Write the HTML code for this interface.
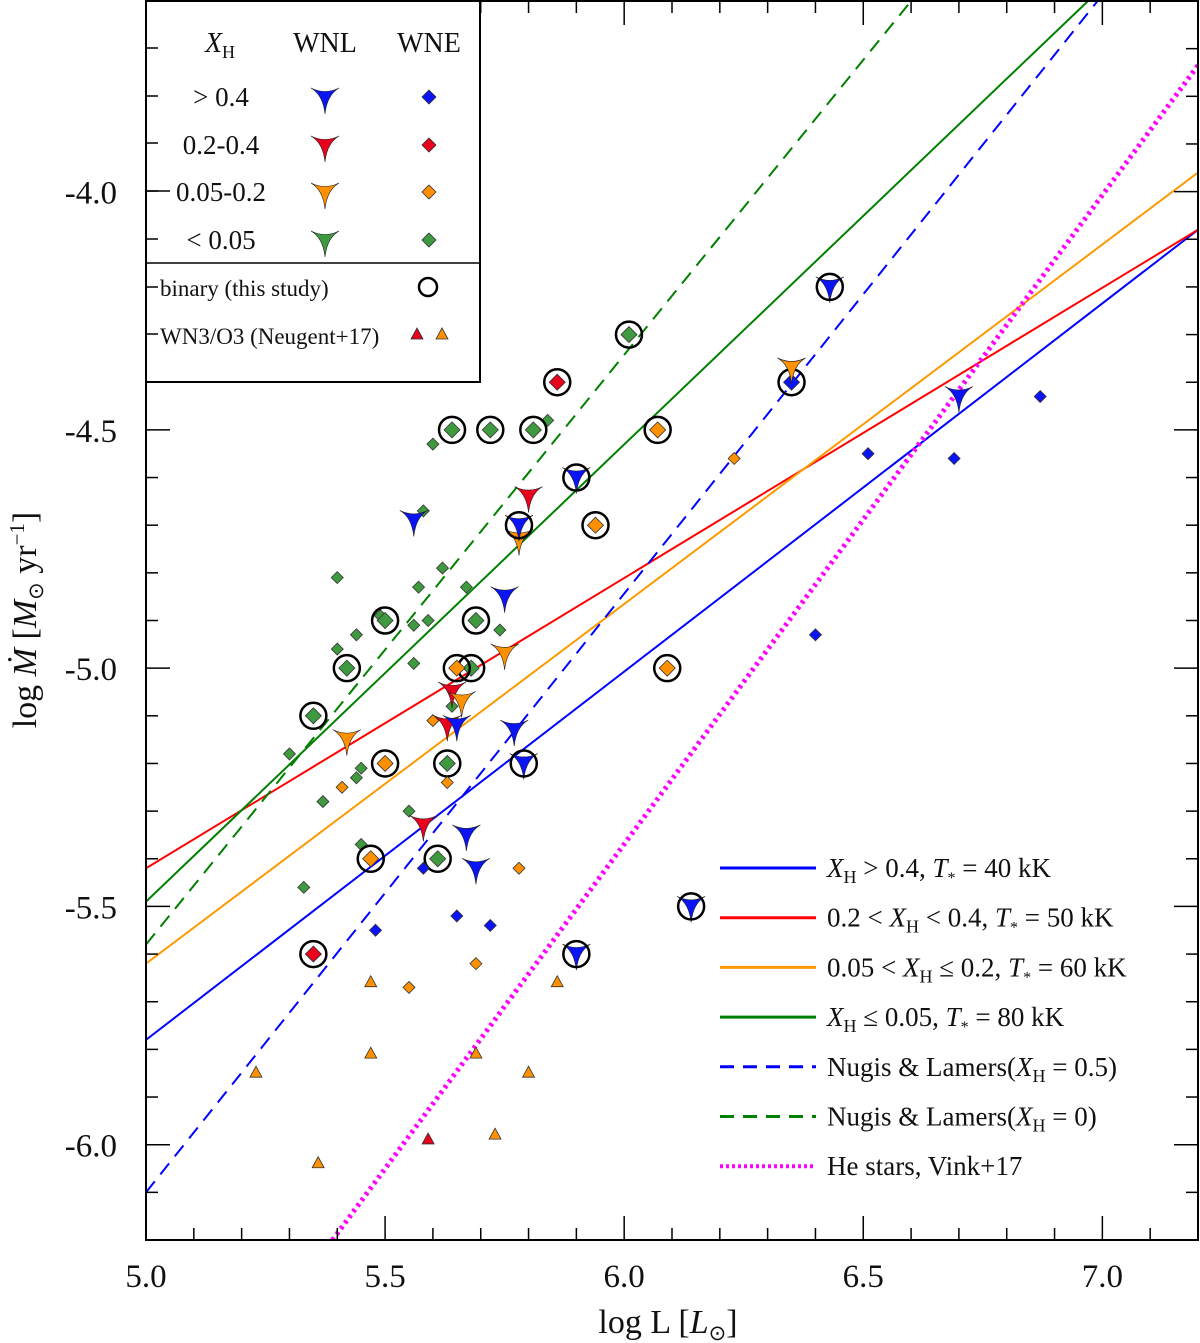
<!DOCTYPE html>
<html><head><meta charset="utf-8"><style>
html,body{margin:0;padding:0;background:#fff}
svg{display:block;font-family:"Liberation Serif",serif}
</style></head><body>
<svg id="chart" width="1200" height="1343" viewBox="0 0 1200 1343"></svg>
<script>
const xTicks=[5.0,5.5,6.0,6.5,7.0];
const xTickLabels=["5.0","5.5","6.0","6.5","7.0"];
const yTicks=[-4.0,-4.5,-5.0,-5.5,-6.0];
const yTickLabels=["-4.0","-4.5","-5.0","-5.5","-6.0"];
// relations: [x0,y0,x1,y1]
const lineBlue=[5.0,-5.78,7.2,-4.08];
const lineRed=[5.0,-5.42,7.2,-4.08];
const lineOrange=[5.0,-5.62,7.2,-3.96];
const lineGreen=[5.0,-5.49,6.97,-3.6];
const nlBlue=[5.0,-6.10,6.99,-3.6];
const nlGreen=[5.0,-5.58,6.6,-3.6];
const vink=[5.39,-6.2,7.2,-3.735];
// WNE diamonds [x,y]
const wneGreen=[[5.30,-5.18],[5.33,-5.46],[5.37,-5.28],[5.40,-4.96],[5.40,-4.81],[5.44,-4.93],[5.44,-5.23],[5.45,-5.21],[5.45,-5.37],[5.55,-5.30],[5.56,-4.99],[5.56,-4.91],[5.57,-4.83],[5.58,-4.67],[5.59,-4.90],[5.60,-4.53],[5.62,-4.79],[5.67,-4.83],[5.74,-4.92],[5.84,-4.48],[5.49,-4.89],[5.64,-5.08]];
const wneGreenBin=[[5.35,-5.10],[5.42,-5.00],[5.50,-4.90],[5.63,-5.20],[5.61,-5.40],[5.64,-4.50],[5.72,-4.50],[5.81,-4.50],[5.69,-4.90],[6.01,-4.30],[5.68,-5.00]];
const wneOrange=[[5.41,-5.25],[5.60,-5.11],[5.63,-5.24],[5.78,-5.42],[5.69,-5.62],[5.55,-5.67],[6.23,-4.56]];
const wneOrangeBin=[[5.47,-5.40],[5.50,-5.20],[5.65,-5.00],[5.94,-4.70],[6.07,-4.50],[6.09,-5.00]];
const wneBlue=[[5.48,-5.55],[5.58,-5.42],[5.65,-5.52],[5.72,-5.54],[6.51,-4.55],[6.69,-4.56],[6.87,-4.43],[6.40,-4.93]];
const wneBlueBin=[[6.35,-4.40]];
const wneRedBin=[[5.86,-4.40],[5.35,-5.60]];
// WNL arrows
const wnlBlue=[[5.56,-4.69],[5.75,-4.85],[5.65,-5.12],[5.77,-5.13],[5.67,-5.35],[5.69,-5.42],[6.70,-4.43]];
const wnlBlueBin=[[5.90,-4.60],[5.78,-4.70],[5.79,-5.20],[6.43,-4.20],[6.14,-5.50],[5.90,-5.60]];
const wnlRed=[[5.80,-4.64],[5.64,-5.05],[5.63,-5.12],[5.58,-5.33]];
const wnlOrange=[[5.42,-5.15],[5.75,-4.97],[5.66,-5.07],[5.78,-4.73],[6.35,-4.37]];
// Neugent+17 triangles
const triOrange=[[5.23,-5.85],[5.36,-6.04],[5.47,-5.66],[5.47,-5.81],[5.69,-5.81],[5.80,-5.85],[5.73,-5.98],[5.86,-5.66]];
const triRed=[[5.59,-5.99]];

const L=146,R=1198,T=1,B=1240,XMIN=5.0,XMAX=7.2,YMIN=-6.2,YMAX=-3.6;
const sx=v=>L+(v-XMIN)/(XMAX-XMIN)*(R-L);
const sy=v=>B-(v-YMIN)/(YMAX-YMIN)*(B-T);
const NS="http://www.w3.org/2000/svg";
const svg=document.getElementById('chart');
function mk(tag,attrs,parent){const e=document.createElementNS(NS,tag);for(const k in attrs)e.setAttribute(k,attrs[k]);(parent||svg).appendChild(e);return e;}
const C={blue:"#0a14f5",red:"#e8001c",orange:"#ff9100",green:"#3f9a3f"};

const clip=mk('clipPath',{id:'pc'});mk('rect',{x:L,y:T,width:R-L,height:B-T},clip);
const plot=mk('g',{'clip-path':'url(#pc)'});



function drawLine(a,color,dash,w,name){
  const l=mk('line',{x1:sx(a[0]),y1:sy(a[1]),x2:sx(a[2]),y2:sy(a[3]),stroke:color,'stroke-width':w||2,'stroke-dasharray':dash||'none'},plot);
  
  
}
drawLine(lineBlue,"#0000ff",null,2,'line-xh-gt-0.4');
drawLine(lineRed,"#ff0000",null,2,'line-xh-0.2-0.4');
drawLine(lineOrange,"#ff9900",null,2,'line-xh-0.05-0.2');
drawLine(lineGreen,"#008000",null,2,'line-xh-le-0.05');
drawLine(nlBlue,"#0000ff","14,9",2,'nugis-lamers-xh-0.5');
drawLine(nlGreen,"#008000","14,9",2,'nugis-lamers-xh-0');
drawLine(vink,"#ff00ff","3,4",5,'vink-he-stars');

function diamond(x,y,col,s,g){return mk('path',{d:`M${x},${y-s}L${x+s},${y}L${x},${y+s}L${x-s},${y}Z`,fill:col,stroke:'#333','stroke-width':0.8},g);}
function arrow(x,y,col,g){return mk('path',{d:`M${x-14},${y-10}Q${x},${y-3} ${x+14},${y-10}Q${x+2},${y-3} ${x},${y+16}Q${x-2},${y-3} ${x-14},${y-10}Z`,fill:col,stroke:'#222','stroke-width':0.6},g);}
function ring(x,y,g){return mk('circle',{cx:x,cy:y,r:13,fill:'none',stroke:'#000','stroke-width':2.5},g);}
function tri(x,y,col,g){return mk('path',{d:`M${x},${y-7}L${x+6},${y+4}L${x-6},${y+4}Z`,fill:col,stroke:'#333','stroke-width':0.8},g);}

function series(arr,col,kind,bin,name){
  const g=mk('g',{},plot);
  
  
  arr.forEach(p=>{
    const x=sx(p[0]),y=sy(p[1]);
    let m;
    if(kind==='d')m=diamond(x,y,col,bin?8:6,g);
    else if(kind==='a')m=arrow(x,y,col,g);
    else m=tri(x,y,col,g);
    
    
    if(bin){const r=ring(x,y,g);
      
      }
  });
}
series(triOrange,C.orange,'t',false,'neugent-orange');
series(triRed,C.red,'t',false,'neugent-red');
series(wneGreen,C.green,'d',false,'wne-green');
series(wneGreenBin,C.green,'d',true,'wne-green-binary');
series(wneOrange,C.orange,'d',false,'wne-orange');
series(wneOrangeBin,C.orange,'d',true,'wne-orange-binary');
series(wneBlue,C.blue,'d',false,'wne-blue');
series(wneBlueBin,C.blue,'d',true,'wne-blue-binary');
series(wneRedBin,C.red,'d',true,'wne-red-binary');
series(wnlRed,C.red,'a',false,'wnl-red');
series(wnlOrange,C.orange,'a',false,'wnl-orange');
series(wnlBlue,C.blue,'a',false,'wnl-blue');
series(wnlBlueBin,C.blue,'a',true,'wnl-blue-binary');

// ticks
const ax=mk('g',{stroke:'#000','stroke-width':1.5});


for(let i=0;i<=22;i++){const v=XMIN+i*0.1,x=sx(v),maj=i%5===0,len=maj?24:12;
  mk('line',{x1:x,y1:B,x2:x,y2:B-len},ax);mk('line',{x1:x,y1:T,x2:x,y2:T+len},ax);}
for(let i=0;i<=26;i++){const v=YMIN+i*0.1,y=sy(v),maj=Math.abs(Math.round(v*10))%5===0,len=maj?24:12;
  mk('line',{x1:L,y1:y,x2:L+len,y2:y},ax);mk('line',{x1:R,y1:y,x2:R-len,y2:y},ax);}

// legend top-left
const lg=mk('g',{});


mk('rect',{x:L,y:T,width:334,height:381,fill:'#fff',stroke:'#000','stroke-width':2},lg);
mk('line',{x1:L,y1:263,x2:480,y2:263,stroke:'#000','stroke-width':1.5},lg);
[48,96,143,191,239,287,334].forEach(y=>mk('line',{x1:L,y1:y,x2:L+12,y2:y,stroke:'#000','stroke-width':1.5},lg));
mk('line',{x1:L,y1:191,x2:L+24,y2:191,stroke:'#000','stroke-width':1.5},lg);
const tx=(x,y,s,size,anchor,name)=>{const t=mk('text',{x:x,y:y,'font-size':size||24,'text-anchor':anchor||'middle',fill:'#111'},lg);t.innerHTML=s;return t;};
tx(220,52,'<tspan font-style="italic">X</tspan><tspan font-size="18" dy="6">H</tspan>',28,'middle','legend-header-xh');
tx(325,52,'WNL',28,'middle','legend-header-wnl');
tx(429,52,'WNE',28,'middle','legend-header-wne');
const rows=[['&gt; 0.4',C.blue,97],['0.2-0.4',C.red,145],['0.05-0.2',C.orange,192],['&lt; 0.05',C.green,240]];
rows.forEach(r=>{tx(221,r[2]+9,r[0],27,'middle','legend-row-label');arrow(325,r[2]+1,r[1],lg);diamond(429,r[2],r[1],7,lg);});
tx(160,296,'binary (this study)',23,'start','legend-binary');
mk('circle',{cx:428,cy:287,r:9,fill:'none',stroke:'#000','stroke-width':2.5},lg);
tx(160,344,'WN3/O3 (Neugent+17)',23,'start','legend-neugent');
tri(417,335,C.red,lg);tri(442,335,C.orange,lg);

// line legend
const ll=mk('g',{});


const sub='<tspan font-size="18" dy="6">H</tspan><tspan dy="-6">';
const star='<tspan font-size="16" dy="6">*</tspan><tspan dy="-6">';
const items=[
 ['#0000ff','none',3,'<tspan font-style="italic">X</tspan>'+sub+' &gt; 0.4, </tspan><tspan font-style="italic">T</tspan>'+star+' = 40 kK</tspan>'],
 ['#ff0000','none',3,'0.2 &lt; <tspan font-style="italic">X</tspan>'+sub+' &lt; 0.4, </tspan><tspan font-style="italic">T</tspan>'+star+' = 50 kK</tspan>'],
 ['#ff9900','none',3,'0.05 &lt; <tspan font-style="italic">X</tspan>'+sub+' ≤ 0.2, </tspan><tspan font-style="italic">T</tspan>'+star+' = 60 kK</tspan>'],
 ['#008000','none',3,'<tspan font-style="italic">X</tspan>'+sub+' ≤ 0.05, </tspan><tspan font-style="italic">T</tspan>'+star+' = 80 kK</tspan>'],
 ['#0000ff','14,9',3,'Nugis &amp; Lamers(<tspan font-style="italic">X</tspan>'+sub+' = 0.5)</tspan>'],
 ['#008000','14,9',3,'Nugis &amp; Lamers(<tspan font-style="italic">X</tspan>'+sub+' = 0)</tspan>'],
 ['#ff00ff','3,3',4,'He stars, Vink+17']];
items.forEach((it,i)=>{const y=868+i*49.7;
  mk('line',{x1:720,y1:y,x2:816,y2:y,stroke:it[0],'stroke-width':it[2],'stroke-dasharray':it[1]},ll);
  const t=mk('text',{x:827,y:y+9,'font-size':27,fill:'#111'},ll);t.innerHTML=it[3];
  
  
});

mk('rect',{x:L,y:T,width:R-L,height:B-T,fill:'none',stroke:'#000','stroke-width':2});

// tick labels
xTicks.forEach((v,i)=>{const t=mk('text',{x:sx(v),y:1287,'font-size':33,'text-anchor':'middle',fill:'#111'});t.textContent=xTickLabels[i];
  });
yTicks.forEach((v,i)=>{const t=mk('text',{x:117,y:sy(v)+12,'font-size':33,'text-anchor':'end',fill:'#111'});t.textContent=yTickLabels[i];
  });
const xt=mk('text',{x:668,y:1333,'font-size':34,'text-anchor':'middle',fill:'#111'});
xt.innerHTML='log L  [<tspan font-style="italic">L</tspan><tspan font-size="21" dy="7">⊙</tspan><tspan dy="-7">]</tspan>';

const yt=mk('text',{x:0,y:0,'font-size':34,'text-anchor':'middle',fill:'#111',transform:'translate(36,620) rotate(-90)'});
yt.innerHTML='log <tspan font-style="italic">Ṁ</tspan> [<tspan font-style="italic">M</tspan><tspan font-size="21" dy="7">⊙</tspan><tspan dy="-7"> yr</tspan><tspan font-size="21" dy="-12">−1</tspan><tspan dy="12">]</tspan>';

</script>
</body></html>
